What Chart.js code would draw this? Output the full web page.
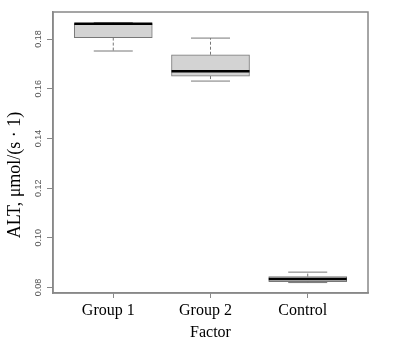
<!DOCTYPE html>
<html>
<head>
<meta charset="utf-8">
<script src="https://cdn.jsdelivr.net/npm/chart.js@4"></script>
<style>
  body { margin: 0; background: #fff; }
</style>
</head>
<body>
<canvas id="chart" width="396" height="353"></canvas>
<script>
// box statistics
const groups = ["Group 1", "Group 2", "Control"];
const lowerWhisker = [0.1752, 0.1631, 0.0820];
const q1 = [0.1806, 0.1651, 0.0824];
const median = [0.1862, 0.1671, 0.0834];
const q3 = [0.1862, 0.1737, 0.0844];
const upperWhisker = [0.1866, 0.1804, 0.0862];
const yTicks = [0.08, 0.1, 0.12, 0.14, 0.16, 0.18];

const axisColor = "#888";

// whiskers, medians and the frame around the plot
const boxPlugin = {
  id: "boxExtras",
  afterDatasetsDraw(chart) {
    const { ctx, chartArea, scales } = chart;
    const xs = scales.x, ys = scales.y;
    ctx.save();
    groups.forEach((g, i) => {
      const x = xs.getPixelForValue(i + 1);
      const half = 39, cap = 19.5;
      ctx.strokeStyle = "#777";
      ctx.lineWidth = 1;
      ctx.setLineDash([3, 2]);
      ctx.beginPath();
      ctx.moveTo(x, ys.getPixelForValue(q3[i]));
      ctx.lineTo(x, ys.getPixelForValue(upperWhisker[i]));
      ctx.moveTo(x, ys.getPixelForValue(q1[i]));
      ctx.lineTo(x, ys.getPixelForValue(lowerWhisker[i]));
      ctx.stroke();
      ctx.setLineDash([]);
      ctx.beginPath();
      [upperWhisker[i], lowerWhisker[i]].forEach((v) => {
        const y = ys.getPixelForValue(v);
        ctx.moveTo(x - cap, y);
        ctx.lineTo(x + cap, y);
      });
      ctx.stroke();
      ctx.strokeStyle = "#000";
      ctx.lineWidth = 2.5;
      ctx.beginPath();
      const ym = ys.getPixelForValue(median[i]);
      ctx.moveTo(x - half, ym);
      ctx.lineTo(x + half, ym);
      ctx.stroke();
    });
    ctx.strokeStyle = axisColor;
    ctx.lineWidth = 1.5;
    ctx.strokeRect(chartArea.left, chartArea.top,
      chartArea.right - chartArea.left, chartArea.bottom - chartArea.top);
    ctx.restore();
  }
};

new Chart(document.getElementById("chart"), {
  type: "bar",
  data: {
    datasets: [{
      data: groups.map((g, i) => ({ x: i + 1, y: [q1[i], q3[i]] })),
      backgroundColor: "#d3d3d3",
      borderColor: "#777",
      borderWidth: 1,
      borderSkipped: false,
      barThickness: 78
    }]
  },
  options: {
    responsive: false,
    animation: false,
    layout: { padding: { top: 12, right: 28, left: 0, bottom: 0 } },
    plugins: { legend: { display: false }, tooltip: { enabled: false } },
    scales: {
      x: {
        type: "linear",
        offset: false,
        min: 0.38,
        max: 3.62,
        afterBuildTicks: (s) => { s.ticks = [1, 2, 3].map((v) => ({ value: v })); },
        afterFit: (s) => { s.height = 60; },
        grid: { offset: false, drawOnChartArea: false, tickLength: 5, color: axisColor },
        border: { color: axisColor, width: 1.5 },
        ticks: {
          autoSkip: false,
          maxRotation: 0,
          padding: 3,
          labelOffset: -5,
          color: "#000",
          font: { family: "Liberation Serif", size: 16 },
          callback: (v) => groups[v - 1]
        },
        title: {
          display: true,
          text: "Factor",
          color: "#000",
          font: { family: "Liberation Serif", size: 16 },
          padding: { top: 0, bottom: 11 }
        }
      },
      y: {
        min: 0.0778,
        max: 0.1909,
        afterBuildTicks: (s) => { s.ticks = yTicks.map((v) => ({ value: v })); },
        afterFit: (s) => { s.width = 53; },
        grid: { drawOnChartArea: false, tickLength: 6, color: axisColor },
        border: { color: axisColor, width: 1.5 },
        ticks: {
          minRotation: 90,
          maxRotation: 90,
          crossAlign: "center",
          padding: 0,
          color: "#555",
          font: { family: "Liberation Sans", size: 9 },
          callback: (v) => v.toFixed(2)
        },
        title: {
          display: true,
          text: "ALT, μmol/(s · 1)          ",
          color: "#000",
          font: { family: "Liberation Serif", size: 18 },
          padding: { top: 4, bottom: 0 }
        }
      }
    }
  },
  plugins: [boxPlugin]
});
</script>
</body>
</html>
